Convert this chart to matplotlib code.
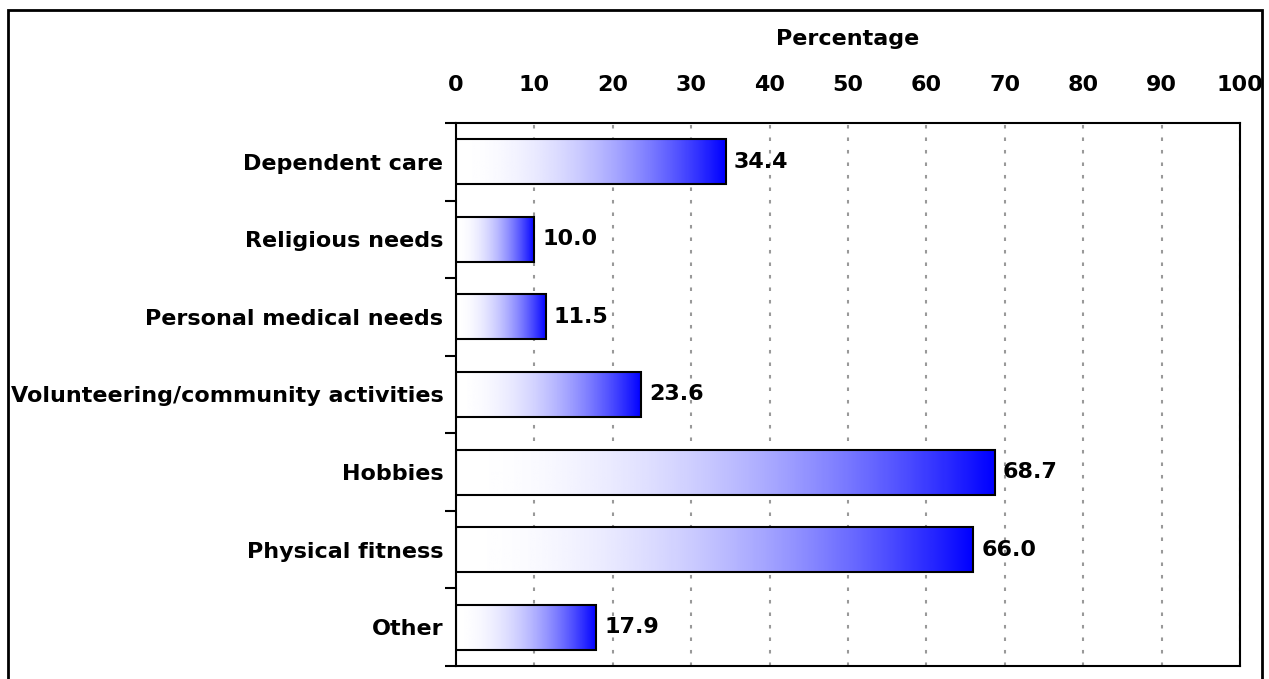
import numpy as np
import matplotlib
matplotlib.use("Agg")
import matplotlib.pyplot as plt
from matplotlib.colors import LinearSegmentedColormap
from matplotlib.patches import Rectangle

# survey categories and the share of respondents (%)
categories = ["Dependent care", "Religious needs", "Personal medical needs",
              "Volunteering/community activities", "Hobbies",
              "Physical fitness", "Other"]
values = [34.4, 10.0, 11.5, 23.6, 68.7, 66.0, 17.9]
xticks = [0, 10, 20, 30, 40, 50, 60, 70, 80, 90, 100]

plt.rcParams['font.family'] = ['DejaVu Sans']
plt.rcParams['font.weight'] = 'bold'
FS = 16

fig = plt.figure(figsize=(12.69, 6.79), dpi=100)
ax = fig.add_axes([0.3593, 0.0191, 0.9772 - 0.3593, 0.8189 - 0.0191])

# white-to-blue fill, stays pale for longer then deepens toward the bar end
cmap = LinearSegmentedColormap.from_list("wb", ["#ffffff", "#0000ff"])
grad = (np.linspace(0, 1, 256) ** 2).reshape(1, -1)
bar_h = 0.58

ypos = np.arange(len(categories))
for y, v in zip(ypos, values):
    ax.imshow(grad, cmap=cmap, aspect='auto', zorder=2, vmin=0, vmax=1,
              extent=[0, v, y + bar_h / 2, y - bar_h / 2])
    ax.add_patch(Rectangle((0, y - bar_h / 2), v, bar_h, fill=False,
                           edgecolor='black', linewidth=1.5, zorder=3))
    ax.text(v + 1.0, y, f"{v:.1f}", va='center', ha='left',
            fontsize=FS, fontweight='bold', zorder=4)

ax.set_xlim(0, 100)
ax.set_ylim(len(categories) - 0.5, -0.5)

ax.xaxis.tick_top()
ax.xaxis.set_label_position('top')
ax.set_xticks(xticks)
ax.set_xticklabels([str(t) for t in xticks], fontsize=FS, fontweight='bold')
ax.tick_params(axis='x', length=0, pad=20)
ax.set_xlabel("Percentage", fontsize=FS, fontweight='bold', labelpad=22)

ax.set_yticks(ypos)
ax.set_yticklabels(categories, fontsize=FS, fontweight='bold')
ax.set_yticks(np.arange(len(categories) + 1) - 0.5, minor=True)
ax.tick_params(axis='y', which='major', length=0, pad=9)
ax.tick_params(axis='y', which='minor', length=8, width=1.5, direction='out')

ax.grid(axis='x', color='#999999', linestyle=(0, (1.7, 4.3)),
        linewidth=1.5, zorder=1)
ax.set_axisbelow(True)
for s in ax.spines.values():
    s.set_linewidth(1.5)

# outer frame around the whole chart
fig.patches.append(Rectangle((8 / 1269, -0.1), (1262 - 8) / 1269,
                             1.1 - 10 / 679, transform=fig.transFigure,
                             fill=False, edgecolor='black', linewidth=2))

fig.savefig("out.png", dpi=100)
